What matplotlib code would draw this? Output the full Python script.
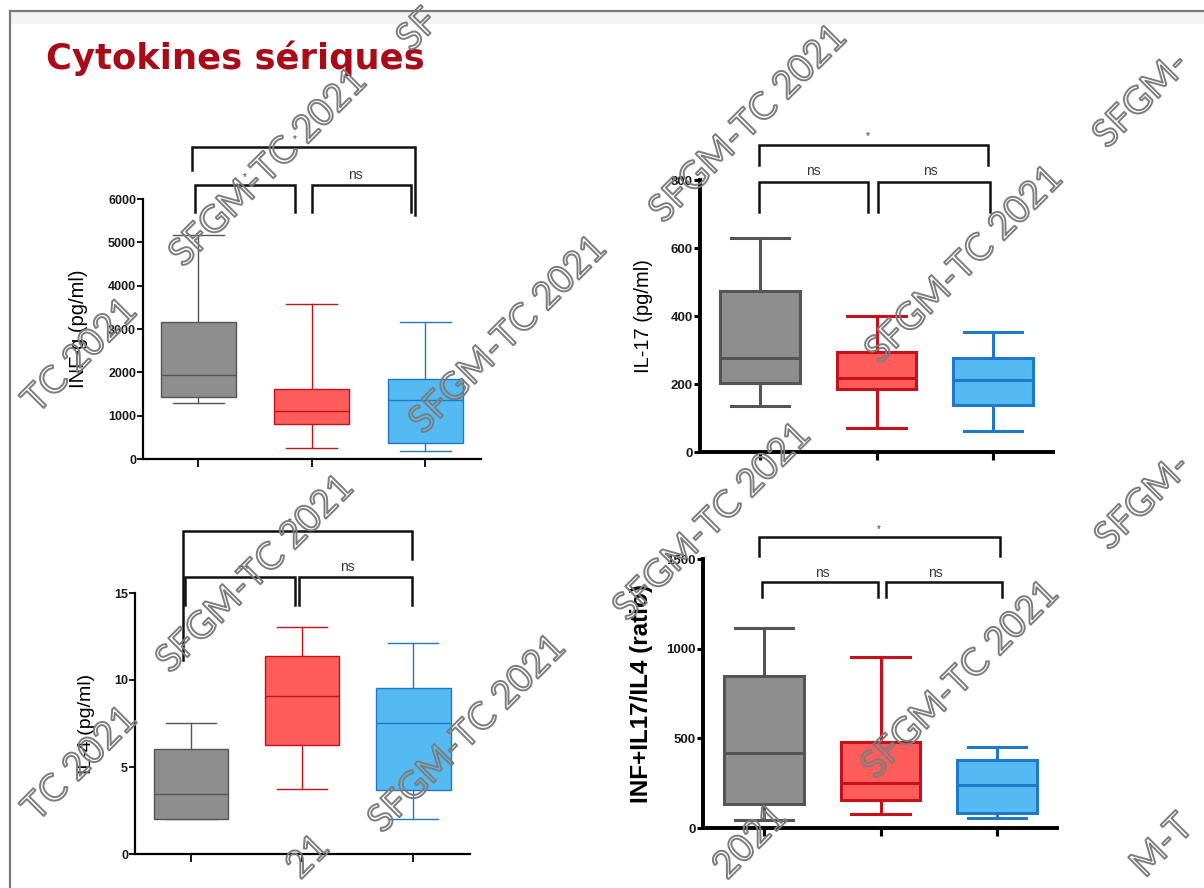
import matplotlib
matplotlib.use("Agg")
import matplotlib.pyplot as plt
import matplotlib.patheffects as pe
from matplotlib.lines import Line2D
from matplotlib.patches import Rectangle

W, H = 1204, 888

# group order: grey, red, blue
FILLS = ["#8e8e8e", "#ff5c5c", "#55baf2"]
EDGES = ["#555555", "#c8101a", "#1f78c8"]

# INF-g (pg/ml)
ifng_low = [1300, 250, 180]
ifng_q1 = [1420, 810, 370]
ifng_med = [1930, 1110, 1360]
ifng_q3 = [3160, 1620, 1850]
ifng_high = [5180, 3580, 3160]

# IL-17 (pg/ml)
il17_low = [135, 71, 62]
il17_q1 = [203, 185, 138]
il17_med = [276, 218, 212]
il17_q3 = [473, 294, 276]
il17_high = [629, 400, 353]

# IL-4 (pg/ml)
il4_low = [2.0, 3.74, 2.0]
il4_q1 = [2.0, 6.26, 3.68]
il4_med = [3.45, 9.08, 7.53]
il4_q3 = [6.03, 11.4, 9.54]
il4_high = [7.53, 13.05, 12.1]

# INF+IL17/IL4 ratio
ratio_low = [45, 78, 56]
ratio_q1 = [134, 156, 84]
ratio_med = [418, 251, 240]
ratio_q3 = [847, 479, 379]
ratio_high = [1115, 953, 451]

ifng_ticks = [0, 1000, 2000, 3000, 4000, 5000, 6000]
il17_ticks = [0, 200, 400, 600, 800]
il4_ticks = [0, 5, 10, 15]
ratio_ticks = [0, 500, 1000, 1500]

ifng_signif = ["*", "*", "ns"]
il17_signif = ["*", "ns", "ns"]
il4_signif = ["*", "***", "ns"]
ratio_signif = ["*", "ns", "ns"]


def px_axes(fig, left, top, right, bottom):
    return fig.add_axes([left / W, 1 - bottom / H, (right - left) / W, (bottom - top) / H])


def boxes(ax, low, q1, med, q3, high, width, lw, capw):
    stats = []
    for i in range(3):
        stats.append(dict(whislo=low[i], q1=q1[i], med=med[i], q3=q3[i], whishi=high[i]))
    art = ax.bxp(stats, positions=[1, 2, 3], widths=width, patch_artist=True,
                 showfliers=False, capwidths=capw, manage_ticks=False)
    for i in range(3):
        art["boxes"][i].set(facecolor=FILLS[i], edgecolor=EDGES[i], linewidth=lw, zorder=3)
        art["medians"][i].set(color=EDGES[i], linewidth=lw, zorder=4)
        for ln in art["whiskers"][2 * i:2 * i + 2] + art["caps"][2 * i:2 * i + 2]:
            ln.set(color=EDGES[i], linewidth=lw, zorder=2)


def bracket(ax, x1, x2, y, y1, y2, lw=1.8):
    ax.add_line(Line2D([x1, x1, x2, x2], [y1, y, y, y2], color="#111111",
                       linewidth=lw, clip_on=False, solid_joinstyle="miter"))


def mark(ax, x, y, s):
    size = 10 if s == "ns" else 7
    ax.text(x, y, s, fontsize=size, color="#3a3a3a", ha="center", va="bottom", clip_on=False)


def style(ax, xlim, ticks, lw, tick_size):
    ax.set_xlim(*xlim)
    ax.set_ylim(ticks[0], ticks[-1])
    ax.set_yticks(ticks)
    ax.set_xticks([1, 2, 3])
    ax.set_xticklabels([])
    for s in ["top", "right"]:
        ax.spines[s].set_visible(False)
    for s in ["left", "bottom"]:
        ax.spines[s].set_linewidth(lw)
    ax.tick_params(axis="y", length=4, width=lw * 0.8, labelsize=tick_size, pad=1,
                   labelcolor="#1a1a1a")
    ax.tick_params(axis="x", length=6, width=lw * 0.8)
    for t in ax.get_yticklabels():
        t.set_fontweight("bold")
    ax.patch.set_alpha(0)


plt.rcParams["font.family"] = ["Liberation Sans", "DejaVu Sans"]
fig = plt.figure(figsize=(W / 100, H / 100), dpi=100)

# slide frame with a faint shade under the top edge
fig.add_artist(Rectangle((10 / W, 1 - 24 / H), 1, 12 / H, transform=fig.transFigure,
                         facecolor="#f3f3f3", edgecolor="none", zorder=0))
fig.add_artist(Line2D([10 / W, 1], [1 - 11 / H, 1 - 11 / H], color="#7a7a7a", linewidth=1.6))
fig.add_artist(Line2D([10 / W, 10 / W], [0, 1 - 11 / H], color="#7a7a7a", linewidth=1.6))

fig.text(46 / W, 1 - 58 / H, "Cytokines sériques", fontsize=25.5, fontweight="bold",
         color="#a80c18", va="center", ha="left", family=["DejaVu Sans"])

# top-left: INF-g
ax1 = px_axes(fig, 143, 199, 481, 459)
boxes(ax1, ifng_low, ifng_q1, ifng_med, ifng_q3, ifng_high, 0.66, 1.0, 0.45)
style(ax1, (0.515, 3.49), ifng_ticks, 1.6, 9)
ax1.set_ylabel("INF-g (pg/ml)", fontsize=14.5)
ax1.yaxis.set_label_coords(-0.163, 0.5)
bracket(ax1, 0.947, 2.91, 7200, 6670, 5630)
bracket(ax1, 0.974, 1.855, 6324, 5700, 5700)
bracket(ax1, 2.0, 2.87, 6324, 5700, 5700)
mark(ax1, 1.855, 7260, ifng_signif[0])
mark(ax1, 1.41, 6400, ifng_signif[1])
mark(ax1, 2.38, 6400, ifng_signif[2])

# top-right: IL-17
ax2 = px_axes(fig, 700, 180, 1053, 452)
boxes(ax2, il17_low, il17_q1, il17_med, il17_q3, il17_high, 0.68, 2.2, 0.5)
style(ax2, (0.485, 3.515), il17_ticks, 2.8, 9.5)
ax2.set_ylabel("IL-17 (pg/ml)", fontsize=14.5)
ax2.yaxis.set_label_coords(-0.133, 0.5)
bracket(ax2, 0.99, 2.957, 903, 844, 844)
bracket(ax2, 0.99, 1.927, 794, 706, 706)
bracket(ax2, 2.013, 2.974, 794, 706, 706)
mark(ax2, 1.927, 915, il17_signif[0])
mark(ax2, 1.455, 805, il17_signif[1])
mark(ax2, 2.46, 805, il17_signif[2])

# bottom-left: IL-4
ax3 = px_axes(fig, 135, 593, 470, 854)
boxes(ax3, il4_low, il4_q1, il4_med, il4_q3, il4_high, 0.67, 1.0, 0.45)
style(ax3, (0.495, 3.51), il4_ticks, 1.6, 9)
ax3.set_ylabel("IL-4 (pg/ml)", fontsize=14)
ax3.yaxis.set_label_coords(-0.12, 0.5)
bracket(ax3, 0.928, 2.99, 18.56, 11.15, 16.95)
bracket(ax3, 0.946, 1.937, 15.92, 14.31, 14.31)
bracket(ax3, 1.973, 2.99, 15.92, 14.31, 14.31)
mark(ax3, 1.89, 18.8, il4_signif[0])
mark(ax3, 1.47, 16.1, il4_signif[1])
mark(ax3, 2.405, 16.1, il4_signif[2])

# bottom-right: ratio
ax4 = px_axes(fig, 703, 559, 1057, 828)
boxes(ax4, ratio_low, ratio_q1, ratio_med, ratio_q3, ratio_high, 0.68, 2.2, 0.5)
style(ax4, (0.476, 3.515), ratio_ticks, 2.8, 9.5)
ax4.set_ylabel("INF+IL17/IL4 (ratio)", fontsize=17.5, fontweight="bold")
ax4.yaxis.set_label_coords(-0.141, 0.5)
bracket(ax4, 0.957, 3.026, 1623, 1517, 1517)
bracket(ax4, 0.983, 1.979, 1372, 1288, 1288)
bracket(ax4, 2.047, 3.043, 1372, 1288, 1288)
mark(ax4, 1.987, 1640, ratio_signif[0])
mark(ax4, 1.498, 1385, ratio_signif[1])
mark(ax4, 2.468, 1385, ratio_signif[2])

# hollow "SFGM-TC 2021" stamps over the slide; near the edges only the
# visible part of the stamp is written
stamps = [
    ("SFGM-TC 2021", 268, 168), ("SFGM-TC 2021", 508, 335), ("SFGM-TC 2021", 748, 124),
    ("SFGM-TC 2021", 964, 265), ("SFGM-TC 2021", 255, 574), ("SFGM-TC 2021", 467, 734),
    ("SFGM-TC 2021", 712, 522), ("SFGM-TC 2021", 960, 680),
    ("TC 2021", 80, 356), ("SFGM-", 1141, 100), ("SF", 418, 30), ("TC 2021", 80, 764),
    ("SFGM-", 1143, 502), ("M-T", 1162, 846), ("21", 308, 857), ("2021", 750, 842),
]
outline = [pe.Stroke(linewidth=1.4, foreground="#7d7d7d")]
for s, x, y in stamps:
    fig.text(x / W, 1 - y / H, s, fontsize=27, rotation=45,
             rotation_mode="anchor", ha="center", va="center", color="none",
             family=["Lato", "DejaVu Sans"], path_effects=outline, zorder=10)

fig.savefig("out.png", dpi=100, facecolor="white")
